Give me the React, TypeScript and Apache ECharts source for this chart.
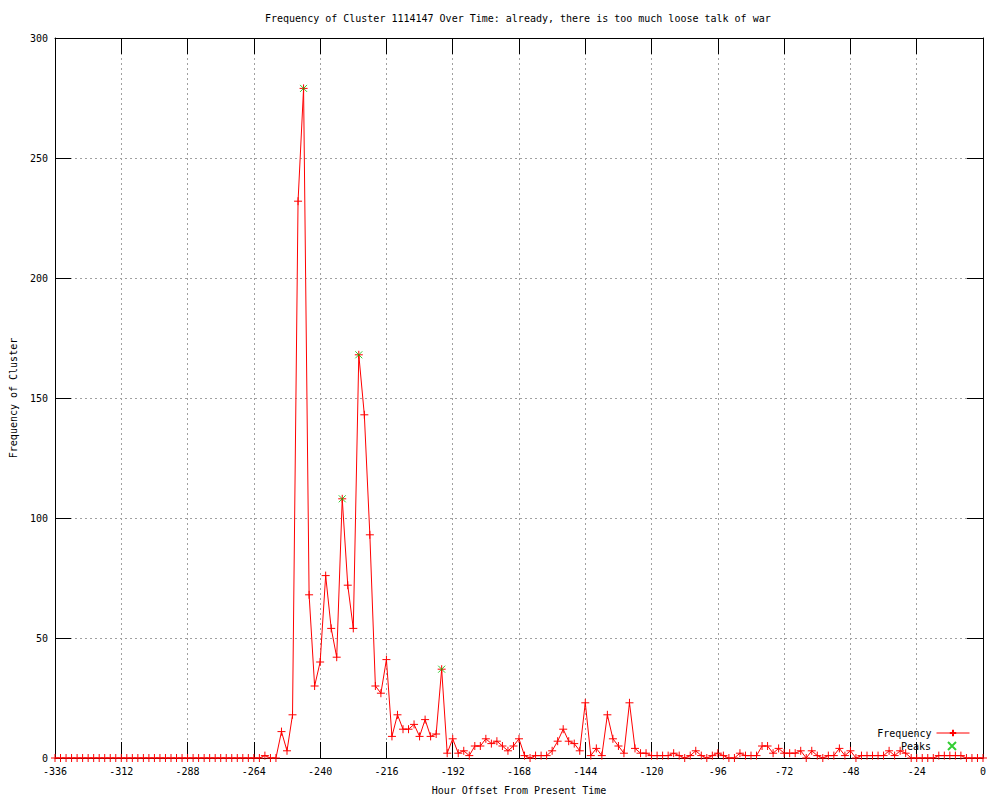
import React, { useEffect, useRef } from "react";
import * as echarts from "echarts";

// Hour offsets run from -336 to 0 in 2-hour bins
const startHour = -336;
const stepHours = 2;

// Frequency per 2-hour bin, from -336 to 0
const freqValues: number[] = [
  // -336 .. -262
  0, 0, 0, 0, 0, 0, 0, 0, 0, 0,
  0, 0, 0, 0, 0, 0, 0, 0, 0, 0,
  0, 0, 0, 0, 0, 0, 0, 0, 0, 0,
  0, 0, 0, 0, 0, 0, 0, 0,
  // -260 .. -242
  1, 0, 0, 11, 3, 18, 232, 279, 68, 30,
  // -240 .. -222
  40, 76, 54, 42, 108, 72, 54, 168, 143, 93,
  // -220 .. -202
  30, 27, 41, 9, 18, 12, 12, 14, 9, 16,
  // -200 .. -182
  9, 10, 37, 2, 8, 2, 3, 1, 5, 5,
  // -180 .. -162
  8, 6, 7, 5, 3, 5, 8, 1, 0, 1,
  // -160 .. -142
  1, 1, 3, 7, 12, 7, 6, 3, 23, 1,
  // -140 .. -122
  4, 1, 18, 8, 5, 2, 23, 4, 2, 2,
  // -120 .. -102
  1, 1, 1, 1, 2, 1, 0, 1, 3, 1,
  // -100 .. -82
  0, 1, 2, 1, 0, 0, 2, 1, 1, 1,
  // -80 .. -62
  5, 5, 2, 4, 2, 2, 2, 3, 0, 3,
  // -60 .. -42
  1, 0, 1, 1, 4, 1, 3, 0, 1, 1,
  // -40 .. -22
  1, 1, 1, 3, 1, 3, 2, 0, 0, 0,
  // -20 .. 0
  0, 0, 1, 1, 1, 1, 1, 0, 0, 0, 0,
];

// Detected peaks
const peakHours: number[] = [-246, -232, -226, -196];
const peakValues: number[] = [279, 108, 168, 37];

const xTicks = { min: -336, max: 0, interval: 24 };
const yTicks = { min: 0, max: 300, interval: 50 };

const titleText =
  "Frequency of Cluster 1114147 Over Time: already, there is too much loose talk of war";
const xName = "Hour Offset From Present Time";
const yName = "Frequency of Cluster";

const FONT = "DejaVu Sans Mono";
const PLUS = "path://M0,5L10,5M5,0L5,10";
const CROSS = "path://M0,0L10,10M10,0L0,10";

export default function App() {
  const ref = useRef<HTMLDivElement>(null);
  useEffect(() => {
    document.body.style.margin = "0";
    if (!ref.current) return;
    const chart = echarts.init(ref.current, undefined, { renderer: "svg" });
    const freqData = freqValues.map((v, i) => [startHour + i * stepHours, v]);
    const peakData = peakHours.map((h, i) => [h, peakValues[i]]);
    const txt = { fontFamily: FONT, fontSize: 10, color: "#000" };
    const grid = { left: 55, right: 17, top: 38, bottom: 40 };
    chart.setOption({
      animation: false,
      backgroundColor: "#fff",
      title: {
        text: titleText,
        left: 265,
        top: 13,
        padding: 0,
        textStyle: { ...txt, fontWeight: "normal" },
      },
      grid,
      legend: [
        {
          data: ["Frequency"],
          right: 30,
          top: 728,
          orient: "vertical",
          align: "right",
          itemWidth: 33,
          itemHeight: 8,
          textStyle: txt,
          lineStyle: { width: 1 },
          padding: 0,
        },
        {
          data: ["Peaks"],
          right: 43,
          top: 741,
          orient: "vertical",
          align: "right",
          itemWidth: 8,
          itemHeight: 8,
          textStyle: { ...txt, padding: [0, 12, 0, 0] },
          padding: 0,
        },
      ],
      xAxis: [
        {
          type: "value",
          position: "bottom",
          ...xTicks,
          name: xName,
          nameLocation: "middle",
          nameGap: 27,
          nameTextStyle: txt,
          axisLine: { show: true, onZero: false, lineStyle: { color: "#000", width: 1 } },
          axisTick: { show: true, inside: true, length: 16, lineStyle: { color: "#000" } },
          axisLabel: { ...txt, margin: 8 },
          splitLine: { show: true, lineStyle: { color: "#a0a0a0", type: [2, 3], width: 1 } },
        },
        {
          type: "value",
          position: "top",
          ...xTicks,
          axisLine: { show: true, onZero: false, lineStyle: { color: "#000", width: 1 } },
          axisTick: { show: true, inside: true, length: 16, lineStyle: { color: "#000" } },
          axisLabel: { show: false },
          splitLine: { show: false },
        },
      ],
      yAxis: [
        {
          type: "value",
          position: "left",
          ...yTicks,
          name: yName,
          nameLocation: "middle",
          nameRotate: 90,
          nameGap: 37,
          nameTextStyle: txt,
          axisLine: { show: true, onZero: false, lineStyle: { color: "#000", width: 1 } },
          axisTick: { show: true, inside: true, length: 16, lineStyle: { color: "#000" } },
          axisLabel: { ...txt, margin: 7 },
          splitLine: { show: true, lineStyle: { color: "#a0a0a0", type: [2, 3], width: 1 } },
        },
        {
          type: "value",
          position: "right",
          ...yTicks,
          axisLine: { show: true, onZero: false, lineStyle: { color: "#000", width: 1 } },
          axisTick: { show: true, inside: true, length: 16, lineStyle: { color: "#000" } },
          axisLabel: { show: false },
          splitLine: { show: false },
        },
      ],
      series: [
        {
          name: "Frequency",
          type: "line",
          data: freqData,
          xAxisIndex: 0,
          yAxisIndex: 0,
          symbol: PLUS,
          symbolSize: 8,
          showSymbol: true,
          showAllSymbol: true,
          color: "#ff0000",
          itemStyle: { color: "#ff0000", borderColor: "#ff0000", borderWidth: 1 },
          lineStyle: { color: "#ff0000", width: 1 },
          z: 3,
        },
        {
          name: "Peaks",
          type: "scatter",
          data: peakData,
          xAxisIndex: 0,
          yAxisIndex: 0,
          symbol: CROSS,
          symbolSize: 7,
          color: "#00c000",
          itemStyle: { color: "#00c000", borderColor: "#00c000", borderWidth: 1 },
          z: 4,
        },
      ],
    });
    return () => chart.dispose();
  }, []);
  return <div ref={ref} style={{ width: 1000, height: 800 }} />;
}
